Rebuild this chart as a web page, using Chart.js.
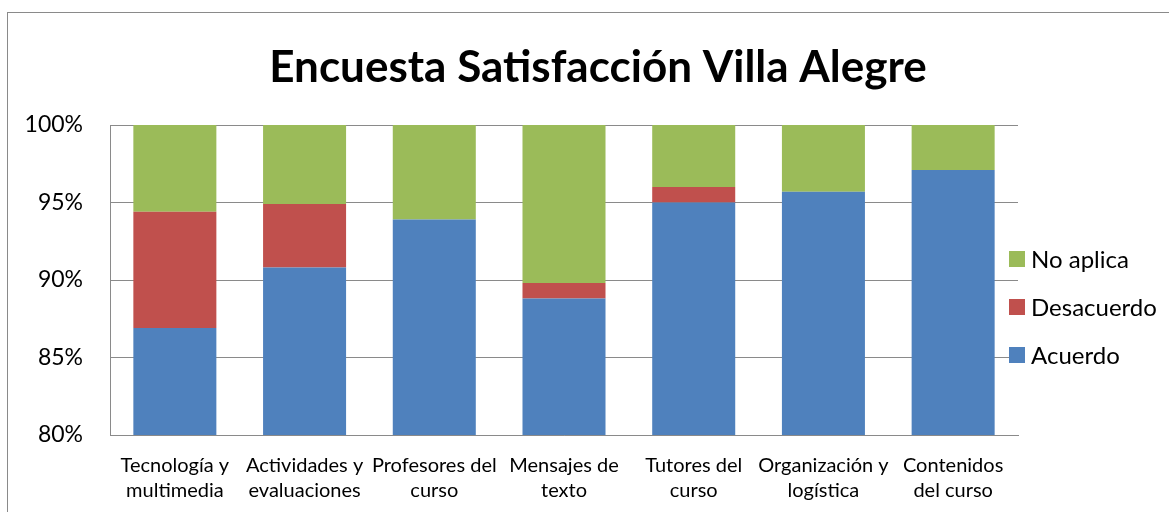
<!DOCTYPE html>
<html>
<head>
<meta charset="utf-8">
<script src="https://cdn.jsdelivr.net/npm/chart.js@4/dist/chart.umd.min.js"></script>
<style>
  html, body { margin: 0; padding: 0; background: #fff; overflow: hidden; }
  #wrap { position: relative; width: 1169px; height: 512px; }
  #frame { position: absolute; left: 7px; top: 12px; width: 1400px; height: 700px; border: 1px solid #8a8a8a; box-sizing: border-box; }
  canvas { position: absolute; left: 0; top: 0; }
</style>
</head>
<body>
<div id="wrap">
  <div id="frame"></div>
  <canvas id="c" width="1169" height="512"></canvas>
</div>
<script>
const title = 'Encuesta Satisfacción Villa Alegre';
const categories = [
  ['Tecnología y', 'multimedia'],
  ['Actividades y', 'evaluaciones'],
  ['Profesores del', 'curso'],
  ['Mensajes de', 'texto'],
  ['Tutores del', 'curso'],
  ['Organización y', 'logística'],
  ['Contenidos', 'del curso']
];
const seriesNames = ['Acuerdo', 'Desacuerdo', 'No aplica'];
const acuerdo    = [86.9, 90.8, 93.9, 88.8, 95.0, 95.7, 97.1];
const desacuerdo = [7.5, 4.1, 0.0, 1.0, 1.0, 0.0, 0.0];
const noAplica   = [5.6, 5.1, 6.1, 10.2, 4.0, 4.3, 2.9];
const yTicks = [80, 85, 90, 95, 100];

const colors = ['#4F81BD', '#C0504D', '#9BBB59'];
const FONT = 'Lato, Carlito, "Open Sans", sans-serif';

// fit title width
const mctx = document.createElement('canvas').getContext('2d');
mctx.font = 'bold 100px ' + FONT;
const titleSize = Math.round(100 * 660 / mctx.measureText(title).width);

const titlePlugin = {
  id: 'topTitle',
  afterDraw(chart) {
    const ctx = chart.ctx;
    ctx.save();
    ctx.font = 'bold ' + titleSize + 'px ' + FONT;
    ctx.fillStyle = '#000';
    ctx.textAlign = 'center';
    ctx.textBaseline = 'alphabetic';
    ctx.fillText(title, 598, 82);
    ctx.restore();
  }
};

const legendPlugin = {
  id: 'sideLegend',
  afterDraw(chart) {
    const ctx = chart.ctx;
    const ds = chart.data.datasets.slice().reverse();
    ctx.save();
    ctx.font = '24px ' + FONT;
    ctx.textBaseline = 'middle';
    ctx.textAlign = 'left';
    ds.forEach((d, i) => {
      const cy = 259 + i * 48;
      ctx.fillStyle = d.backgroundColor;
      ctx.fillRect(1009, cy - 8, 16, 16);
      ctx.fillStyle = '#000';
      ctx.fillText(d.label, 1031, cy + 1);
    });
    ctx.restore();
  }
};

new Chart(document.getElementById('c'), {
  type: 'bar',
  data: {
    labels: categories,
    datasets: [
      { label: seriesNames[0], data: acuerdo, backgroundColor: colors[0] },
      { label: seriesNames[1], data: desacuerdo, backgroundColor: colors[1] },
      { label: seriesNames[2], data: noAplica, backgroundColor: colors[2] }
    ]
  },
  options: {
    responsive: false,
    animation: false,
    devicePixelRatio: 1,
    layout: { padding: { left: 0, right: 151, top: 125, bottom: 0 } },
    datasets: { bar: { categoryPercentage: 1, barPercentage: 0.64, borderWidth: 0 } },
    plugins: {
      legend: { display: false },
      tooltip: { enabled: false },
      title: { display: false }
    },
    scales: {
      x: {
        stacked: true,
        grid: { display: false, drawTicks: false },
        border: { display: true, color: '#8a8a8a', width: 1 },
        ticks: {
          color: '#000',
          font: { family: FONT, size: 20, lineHeight: 25 / 20 },
          padding: 18.5,
          autoSkip: false,
          maxRotation: 0,
          minRotation: 0
        },
        afterFit(s) { s.height = 77; }
      },
      y: {
        stacked: true,
        min: 80,
        max: 100,
        afterBuildTicks(s) { s.ticks = yTicks.map(v => ({ value: v })); },
        grid: { color: '#8a8a8a', lineWidth: 1, drawTicks: false },
        border: { display: true, color: '#8a8a8a', width: 1 },
        ticks: {
          color: '#000',
          font: { family: FONT, size: 23 },
          padding: 27,
          callback: v => v + '%'
        },
        afterFit(s) { s.width = 110; }
      }
    }
  },
  plugins: [titlePlugin, legendPlugin]
});
</script>
</body>
</html>
